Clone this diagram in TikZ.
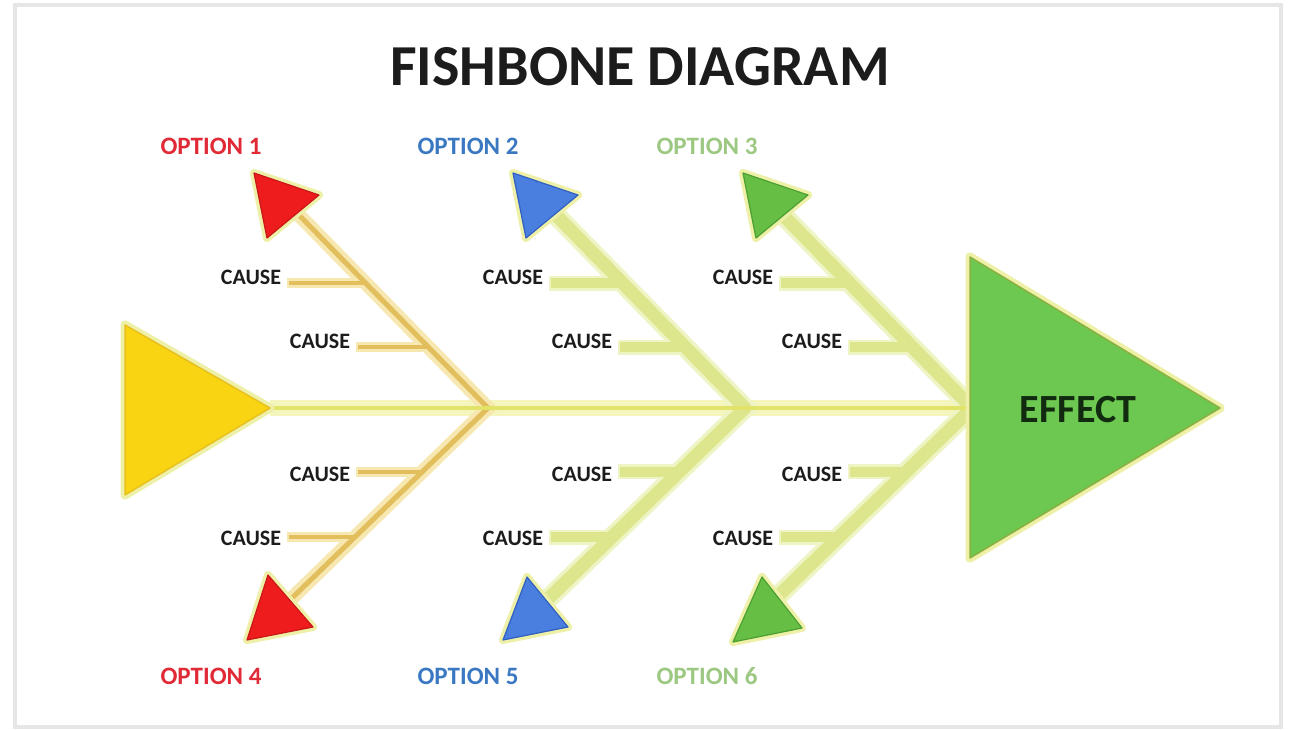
\documentclass[tikz,border=0pt]{standalone}
\usepackage{fontspec}
\setmainfont{Carlito}
\usetikzlibrary{calc}
\definecolor{optred}{HTML}{E02A36}
\definecolor{optblue}{HTML}{3A78C2}
\definecolor{optgreen}{HTML}{9CC882}
\definecolor{trired}{HTML}{EE1C1C}
\definecolor{triredE}{HTML}{C81818}
\definecolor{triblue}{HTML}{4A7FE0}
\definecolor{triblueE}{HTML}{3060C0}
\definecolor{trigreen}{HTML}{66BE44}
\definecolor{trigreenE}{HTML}{4CA030}
\definecolor{effgreen}{HTML}{6CC850}
\definecolor{effgreenE}{HTML}{8CB040}
\definecolor{headyellow}{HTML}{F8D412}
\definecolor{headyellowE}{HTML}{E8C020}
\definecolor{halo}{HTML}{EEF0A8}
\definecolor{boneO}{HTML}{E2BE5C}
\definecolor{glowO}{HTML}{F6E8B0}
\definecolor{boneG}{HTML}{DDE68C}
\definecolor{glowG}{HTML}{EFF4C4}
\definecolor{spinecol}{HTML}{E2E46A}
\definecolor{spineglow}{HTML}{F4F6BE}
\definecolor{framegray}{HTML}{E6E6E6}
\definecolor{labeltext}{HTML}{1C1C1C}
\definecolor{efftext}{HTML}{122A10}
\begin{document}
\begin{tikzpicture}[x=1pt,y=-1pt,
  causelbl/.style={font=\fontsize{22}{22}\selectfont\bfseries, text=labeltext, inner sep=0pt},
  optlbl/.style={font=\fontsize{25}{25}\selectfont\bfseries, inner sep=0pt},
  trihalo/.style={draw=halo, line width=9pt, line join=round, fill=halo},
  spineline/.style={draw=spinecol, line width=4pt},
  spineglowline/.style={draw=spineglow, line width=16pt}
]
\useasboundingbox (0,0) rectangle (1291,729);
\fill[white] (0,0) rectangle (1291,729);
\draw[framegray, line width=4pt] (15,5) rectangle (1281,727);

% title
\node[font=\fontsize{58}{60}\selectfont\bfseries, text=labeltext] (title) at (640,67) {FISHBONE DIAGRAM};

% head and effect
\coordinate (h1) at (125,325); \coordinate (h2) at (125,495); \coordinate (htip) at (270,408);
\coordinate (e1) at (970,257); \coordinate (e2) at (970,558); \coordinate (etip) at (1220,408);
\coordinate (eback) at (970,408);

% spine
\draw[spineglowline] (htip) -- (eback);

\foreach \g/\jx/\ox/\ix/\bc/\gc/\bw/\gw in {L/488/251/320/boneO/glowO/5/14, M/745/513/582/boneG/glowG/13/20, R/972/743/812/boneG/glowG/13/20} {
  \coordinate (j\g) at (\jx,408);
  \coordinate (u\g) at (\jx-194,210);
  \coordinate (d\g) at (\jx-198,600);
  \coordinate (ra\g) at ($(j\g)!0.631!(u\g)$);
  \coordinate (rb\g) at ($(j\g)!0.308!(u\g)$);
  \coordinate (rc\g) at ($(j\g)!0.333!(d\g)$);
  \coordinate (rd\g) at ($(j\g)!0.672!(d\g)$);
  \node[causelbl] (ca\g) at (\ox,277) {CAUSE};
  \node[causelbl] (cb\g) at (\ix,341) {CAUSE};
  \node[causelbl] (cc\g) at (\ix,474) {CAUSE};
  \node[causelbl] (cd\g) at (\ox,538) {CAUSE};
  % glow
  \draw[\gc, line width=\gw pt, line cap=round] (u\g) -- (j\g) -- (d\g);
  \draw[\gc, line width=\gw pt*0.75] ($(ca\g.east |- ra\g)+(6,0)$) -- (ra\g);
  \draw[\gc, line width=\gw pt*0.75] ($(cb\g.east |- rb\g)+(6,0)$) -- (rb\g);
  \draw[\gc, line width=\gw pt*0.75] ($(cc\g.east |- rc\g)+(6,0)$) -- (rc\g);
  \draw[\gc, line width=\gw pt*0.75] ($(cd\g.east |- rd\g)+(6,0)$) -- (rd\g);
  % core
  \draw[\bc, line width=\bw pt, line cap=round, line join=round] (u\g) -- (j\g) -- (d\g);
  \draw[\bc, line width=\bw pt*0.75] ($(ca\g.east |- ra\g)+(8,0)$) -- (ra\g);
  \draw[\bc, line width=\bw pt*0.75] ($(cb\g.east |- rb\g)+(8,0)$) -- (rb\g);
  \draw[\bc, line width=\bw pt*0.75] ($(cc\g.east |- rc\g)+(8,0)$) -- (rc\g);
  \draw[\bc, line width=\bw pt*0.75] ($(cd\g.east |- rd\g)+(8,0)$) -- (rd\g);
}
\draw[spineline] (htip) -- (eback);

% head triangle
\filldraw[trihalo] (h1) -- (htip) -- (h2) -- cycle;
\filldraw[fill=headyellow, draw=headyellowE, line width=1.5pt, line join=round] (h1) -- (htip) -- (h2) -- cycle;

% effect triangle
\filldraw[trihalo] (e1) -- (etip) -- (e2) -- cycle;
\filldraw[fill=effgreen, draw=effgreenE, line width=1.5pt, line join=round] (e1) -- (etip) -- (e2) -- cycle;
\node[font=\fontsize{40}{40}\selectfont\bfseries, text=efftext] (effect) at (1078,410) {EFFECT};

% option triangles (upper)
\foreach \n/\x/\c in {1/254/trired, 2/513/triblue, 3/743/trigreen} {
  \coordinate (t\n a) at (\x,173);
  \coordinate (t\n b) at (\x+65,195);
  \coordinate (t\n c) at (\x+13,238);
  \filldraw[trihalo, line width=8pt] (t\n a) -- (t\n b) -- (t\n c) -- cycle;
  \filldraw[fill=\c, draw=\c E, line width=1.2pt, line join=round] (t\n a) -- (t\n b) -- (t\n c) -- cycle;
}
% option triangles (lower)
\foreach \n/\ax/\ay/\bx/\by/\cx/\cy/\c in {4/268/575/313/627/247/640/trired, 5/527/577/568/627/503/640/triblue, 6/762/577/802/628/733/642/trigreen} {
  \coordinate (t\n a) at (\ax,\ay);
  \coordinate (t\n b) at (\bx,\by);
  \coordinate (t\n c) at (\cx,\cy);
  \filldraw[trihalo, line width=8pt] (t\n a) -- (t\n b) -- (t\n c) -- cycle;
  \filldraw[fill=\c, draw=\c E, line width=1.2pt, line join=round] (t\n a) -- (t\n b) -- (t\n c) -- cycle;
}

% option labels
\node[optlbl, text=optred] (o1) at (211,146) {OPTION 1};
\node[optlbl, text=optblue] (o2) at (468,146) {OPTION 2};
\node[optlbl, text=optgreen] (o3) at (707,146) {OPTION 3};
\node[optlbl, text=optred] (o4) at (211,676) {OPTION 4};
\node[optlbl, text=optblue] (o5) at (468,676) {OPTION 5};
\node[optlbl, text=optgreen] (o6) at (707,676) {OPTION 6};
\end{tikzpicture}
\end{document}
